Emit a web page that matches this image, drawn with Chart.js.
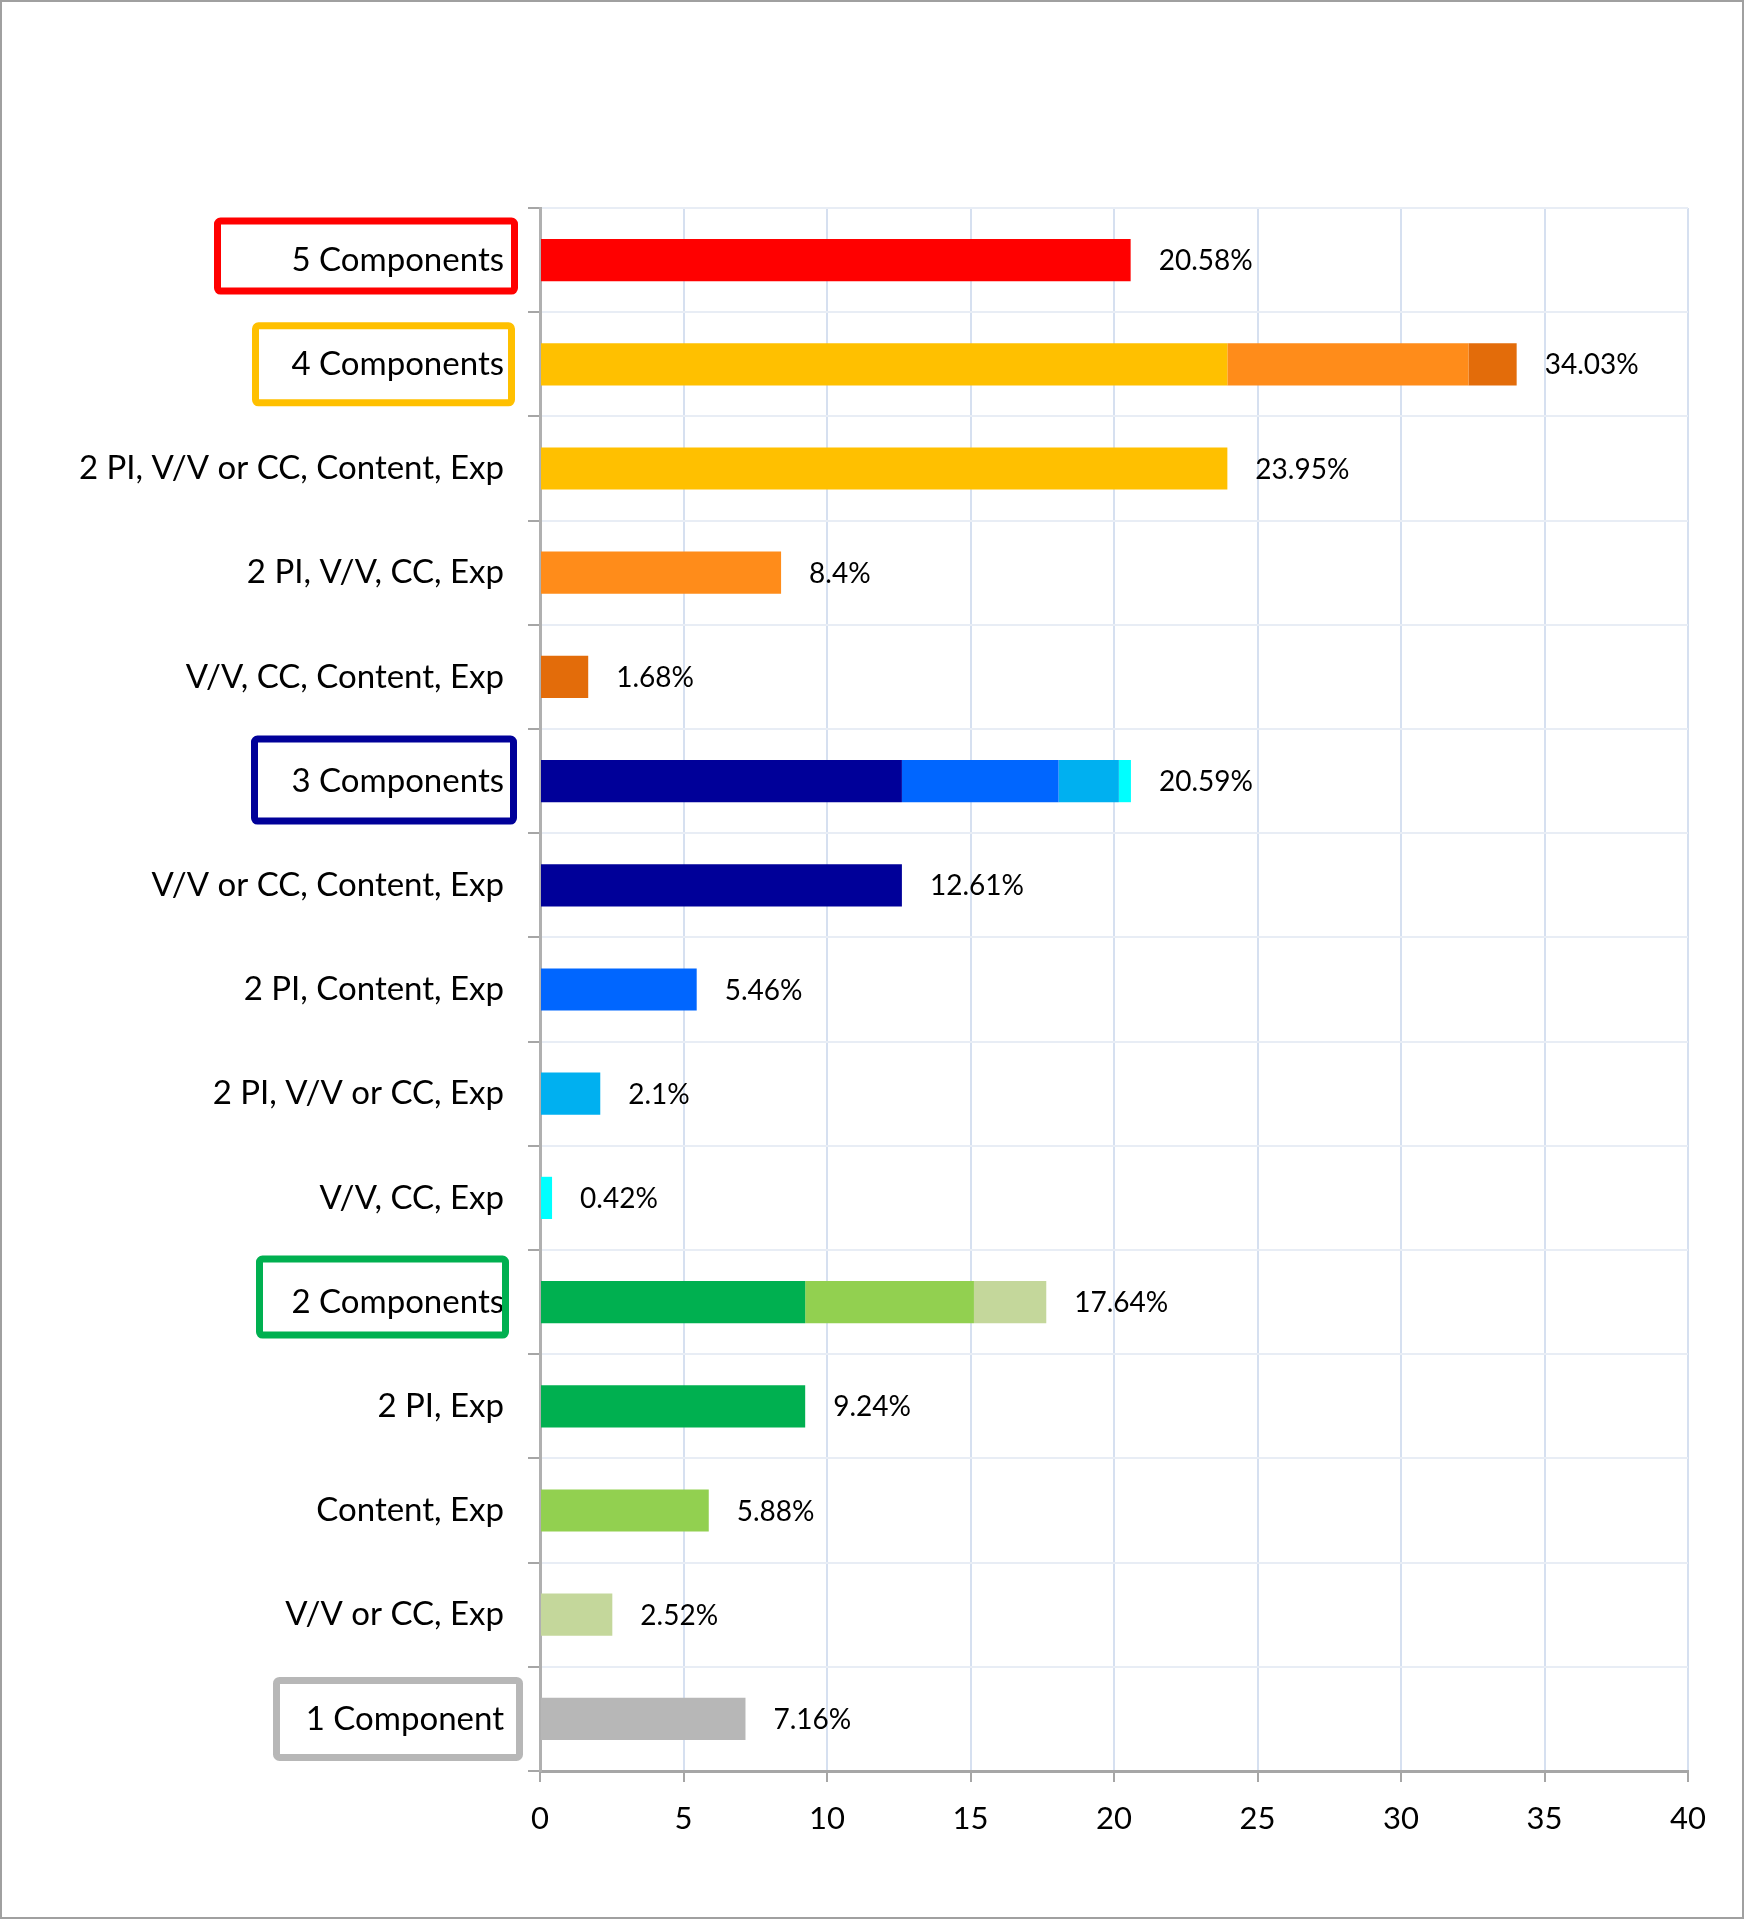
<!DOCTYPE html>
<html>
<head>
<meta charset="utf-8">
<script src="https://cdn.jsdelivr.net/npm/chart.js@4.4.1/dist/chart.umd.min.js"></script>
<style>
  html, body { margin: 0; padding: 0; background: #fff; }
  canvas { display: block; }
</style>
</head>
<body>
<canvas id="myChart" width="1746" height="1920" style="width:1746px;height:1920px"></canvas>
<script>
// categorie dell'asse verticale, dall'alto verso il basso
const categories = [
  '5 Components', '4 Components', '2 PI, V/V or CC, Content, Exp', '2 PI, V/V, CC, Exp',
  'V/V, CC, Content, Exp', '3 Components', 'V/V or CC, Content, Exp', '2 PI, Content, Exp',
  '2 PI, V/V or CC, Exp', 'V/V, CC, Exp', '2 Components', '2 PI, Exp', 'Content, Exp',
  'V/V or CC, Exp', '1 Component'
];

// singole combinazioni (ognuna compare nella sua riga e nella riga del gruppo)
const parts = [
  '5 Components', '2 PI, V/V or CC, Content, Exp', '2 PI, V/V, CC, Exp', 'V/V, CC, Content, Exp',
  'V/V or CC, Content, Exp', '2 PI, Content, Exp', '2 PI, V/V or CC, Exp', 'V/V, CC, Exp',
  '2 PI, Exp', 'Content, Exp', 'V/V or CC, Exp', '1 Component'
];
const partValues = [20.58, 23.95, 8.4, 1.68, 12.61, 5.46, 2.1, 0.42, 9.24, 5.88, 2.52, 7.16];
const partGroups = [
  '5 Components', '4 Components', '4 Components', '4 Components',
  '3 Components', '3 Components', '3 Components', '3 Components',
  '2 Components', '2 Components', '2 Components', '1 Component'
];
const partColors = [
  '#FF0000', '#FFC000', '#FF8C1A', '#E36C0A',
  '#000099', '#0066FF', '#00B0F0', '#00FFFF',
  '#00B050', '#92D050', '#C4D79B', '#B7B7B7'
];

const xTicks = [0, 5, 10, 15, 20, 25, 30, 35, 40];

// riquadri colorati attorno alle etichette dei gruppi
const groupBoxes = [
  { label: '5 Components', color: '#FF0000', left: 326, right: 22, height: 77, dy: -4 },
  { label: '4 Components', color: '#FFC000', left: 288, right: 25, height: 84, dy: 0 },
  { label: '3 Components', color: '#000099', left: 289, right: 23, height: 89, dy: -1 },
  { label: '2 Components', color: '#00B050', left: 284, right: 31, height: 83, dy: -5 },
  { label: '1 Component', color: '#B7B7B7', left: 267, right: 17, height: 84, dy: 0 }
];

const datasets = parts.map((p, k) => ({
  label: p,
  data: categories.map(c => (c === p || c === partGroups[k]) ? partValues[k] : null),
  backgroundColor: partColors[k],
  borderWidth: 0,
  categoryPercentage: 1,
  barPercentage: 0.405
}));

function fmt(v) {
  return (Math.round(v * 100) / 100) + '%';
}

const frame = {
  id: 'frame',
  beforeDraw(chart) {
    const c = chart.ctx;
    c.save();
    c.fillStyle = '#fff';
    c.fillRect(0, 0, chart.width, chart.height);
    c.strokeStyle = '#a0a0a0';
    c.lineWidth = 2;
    c.strokeRect(1, 1, chart.width - 4, chart.height - 3);
    c.restore();
  }
};

const totalsLabels = {
  id: 'totalsLabels',
  afterDatasetsDraw(chart) {
    const c = chart.ctx;
    const xs = chart.scales.x, ys = chart.scales.y;
    c.save();
    c.font = '28px Lato';
    c.fillStyle = '#000';
    c.textBaseline = 'middle';
    c.textAlign = 'left';
    categories.forEach((cat, i) => {
      let tot = 0;
      chart.data.datasets.forEach(ds => { if (ds.data[i] != null) tot += ds.data[i]; });
      c.fillText(fmt(tot), xs.getPixelForValue(tot) + 28, ys.getPixelForValue(i) + 1);
    });
    c.restore();
  }
};

const boxes = {
  id: 'boxes',
  afterDraw(chart) {
    const c = chart.ctx;
    const ys = chart.scales.y;
    const ax = chart.chartArea.left;
    c.save();
    c.lineWidth = 7;
    groupBoxes.forEach(b => {
      const i = categories.indexOf(b.label);
      const yc = ys.getPixelForValue(i) + b.dy;
      const x0 = ax - b.left + 3.5, x1 = ax - b.right - 3.5;
      const y0 = yc - b.height / 2 + 3.5, y1 = yc + b.height / 2 - 3.5;
      c.strokeStyle = b.color;
      c.beginPath();
      c.roundRect(x0, y0, x1 - x0, y1 - y0, 3);
      c.stroke();
    });
    c.restore();
  }
};

new Chart(document.getElementById('myChart').getContext('2d'), {
  type: 'bar',
  data: { labels: categories, datasets: datasets },
  options: {
    indexAxis: 'y',
    responsive: false,
    animation: false,
    events: [],
    layout: { padding: { left: 0, right: 58, top: 208, bottom: 49 } },
    plugins: { legend: { display: false }, tooltip: { enabled: false } },
    scales: {
      x: {
        stacked: true,
        min: 0,
        max: 40,
        afterBuildTicks(scale) { scale.ticks = xTicks.map(v => ({ value: v })); },
        afterFit(scale) { scale.height = 100; },
        grid: { color: '#d6e0f0', lineWidth: 2, tickColor: '#a6a6a6', tickLength: 11 },
        border: { color: '#a6a6a6', width: 3 },
        ticks: { font: { family: 'Lato', size: 31 }, color: '#000', padding: 18, maxRotation: 0 }
      },
      y: {
        stacked: true,
        afterFit(scale) { scale.width = 540; },
        grid: { offset: true, color: '#e8edf5', lineWidth: 2, tickColor: '#a6a6a6', tickLength: 12 },
        border: { color: '#b0b0b0', width: 3 },
        ticks: { font: { family: 'Lato', size: 33 }, color: '#000', padding: 24, autoSkip: false }
      }
    }
  },
  plugins: [frame, totalsLabels, boxes]
});
</script>
</body>
</html>
